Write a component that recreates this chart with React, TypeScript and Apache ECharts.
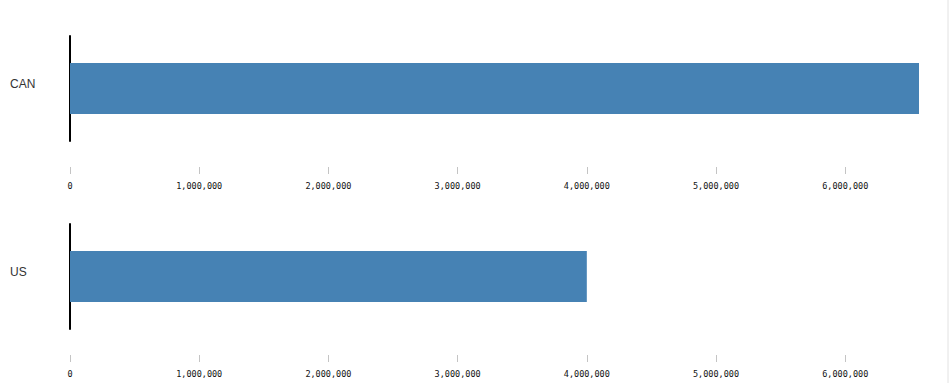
import React, { useEffect, useRef } from "react";
import * as echarts from "echarts";

const categories = ["CAN", "US"];
const values = [6571000, 4000000];
const tickValues = [0, 1000000, 2000000, 3000000, 4000000, 5000000, 6000000];

export default function App() {
  const ref = useRef<HTMLDivElement>(null);
  useEffect(() => {
    if (!ref.current) return;
    const chart = echarts.init(ref.current, null, { renderer: "svg" });
    const maxVal = Math.max(...values);
    const panelTop = [36, 224];
    const grids = categories.map((_, i) => ({
      left: 70,
      right: 33,
      top: panelTop[i],
      height: 105,
      containLabel: false,
    }));
    const xAxes = categories.map((_, i) => ({
      type: "value",
      gridIndex: i,
      min: 0,
      max: maxVal,
      offset: 26,
      axisLine: { show: false },
      splitLine: { show: false },
      axisTick: {
        show: true,
        length: 7,
        customValues: tickValues,
        lineStyle: { color: "#c4c4c4", width: 1 },
      },
      axisLabel: {
        customValues: tickValues,
        margin: 14,
        color: "#111",
        fontSize: 8.5,
        fontFamily: "DejaVu Sans Mono",
        formatter: (v: number) => v.toLocaleString("en-US"),
      },
    }));
    const yAxes = categories.map((c, i) => ({
      type: "category",
      gridIndex: i,
      data: [c],
      axisLine: { show: true, lineStyle: { color: "#000", width: 2 } },
      axisTick: { show: false },
      splitLine: { show: false },
      axisLabel: {
        align: "left",
        margin: 60,
        color: "#333",
        fontSize: 12,
        fontFamily: "Liberation Sans",
        verticalAlign: "bottom",
        lineHeight: 10,
      },
    }));
    const series = categories.map((_, i) => ({
      type: "bar",
      xAxisIndex: i,
      yAxisIndex: i,
      data: [values[i]],
      barWidth: 51,
      itemStyle: { color: "#4682b4" },
      silent: true,
    }));
    chart.setOption({
      animation: false,
      backgroundColor: "#fff",
      grid: grids,
      xAxis: xAxes,
      yAxis: yAxes,
      series,
      graphic: [
        {
          type: "line",
          shape: { x1: 948, y1: 0, x2: 948, y2: 383 },
          style: { stroke: "#e2e2e2", lineWidth: 1 },
          silent: true,
        },
      ],
    });
    return () => chart.dispose();
  }, []);
  return (
    <div
      ref={ref}
      style={{ position: "absolute", left: 0, top: 0, width: 952, height: 383 }}
    />
  );
}
